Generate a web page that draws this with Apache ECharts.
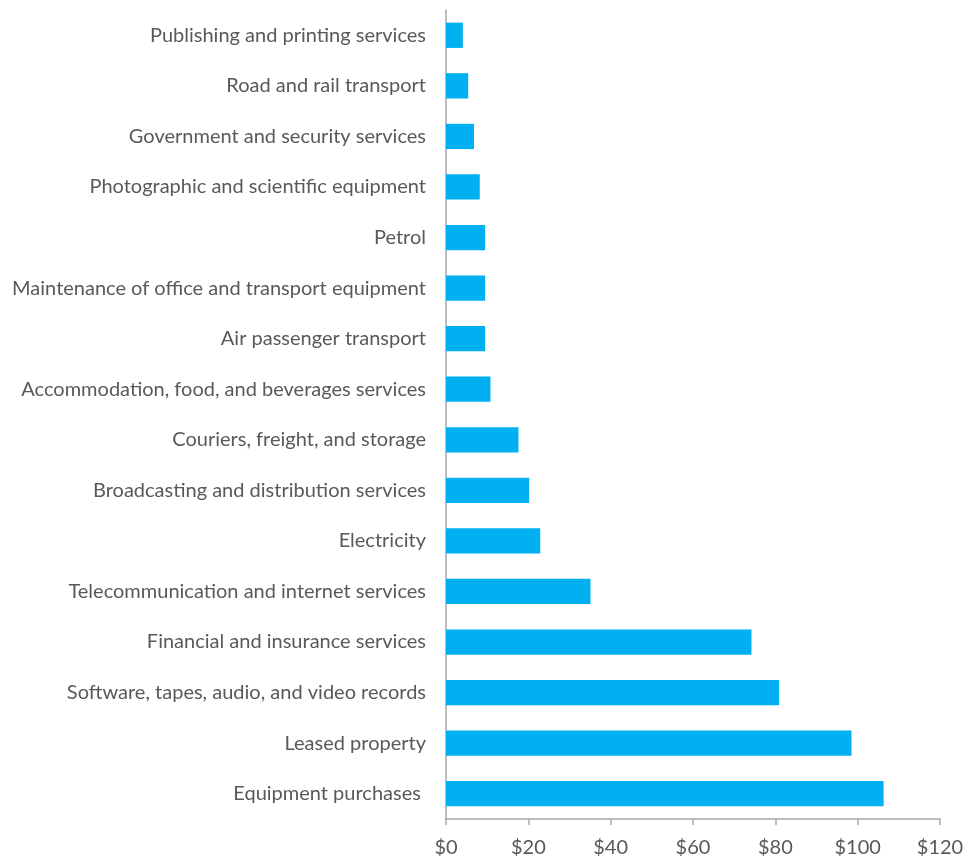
<!DOCTYPE html>
<html>
<head>
<meta charset="utf-8">
<script src="https://cdn.jsdelivr.net/npm/echarts@6/dist/echarts.min.js"></script>
<style>html,body{margin:0;padding:0;background:#fff}#c{width:971px;height:861px}</style>
</head>
<body>
<div id="c"></div>
<script>
const categories = [
  "Equipment purchases ",
  "Leased property",
  "Software, tapes, audio, and video records",
  "Financial and insurance services",
  "Telecommunication and internet services",
  "Electricity",
  "Broadcasting and distribution services",
  "Couriers, freight, and storage",
  "Accommodation, food, and beverages services",
  "Air passenger transport",
  "Maintenance of office and transport equipment",
  "Petrol",
  "Photographic and scientific equipment",
  "Government and security services",
  "Road and rail transport",
  "Publishing and printing services"
];
const values = [106.3, 98.5, 80.9, 74.2, 35.1, 22.9, 20.2, 17.6, 10.8, 9.5, 9.5, 9.5, 8.2, 6.8, 5.4, 4.1];
const xTicks = [0, 20, 40, 60, 80, 100, 120];

const chart = echarts.init(document.getElementById('c'), null, {renderer: 'canvas'});
chart.setOption({
  animation: false,
  backgroundColor: '#ffffff',
  grid: {left: 446, right: 31, top: 10, bottom: 42, containLabel: false},
  xAxis: {
    type: 'value',
    min: xTicks[0],
    max: xTicks[xTicks.length - 1],
    interval: 20,
    splitLine: {show: false},
    axisLine: {show: true, lineStyle: {color: '#A6A6A6', width: 1.5}},
    axisTick: {show: true, length: 6, lineStyle: {color: '#A6A6A6', width: 1.5}},
    axisLabel: {
      color: '#595959', fontFamily: 'Lato', fontSize: 20, margin: 19,
      formatter: v => '$' + v
    }
  },
  yAxis: {
    type: 'category',
    data: categories,
    axisLine: {show: true, lineStyle: {color: '#A6A6A6', width: 1.5}},
    axisTick: {show: false},
    axisLabel: {color: '#595959', fontFamily: 'Lato', fontSize: 20, margin: 20}
  },
  series: [{
    type: 'bar',
    data: values,
    barCategoryGap: '50%',
    itemStyle: {color: '#00B0F0'}
  }]
});
</script>
</body>
</html>
